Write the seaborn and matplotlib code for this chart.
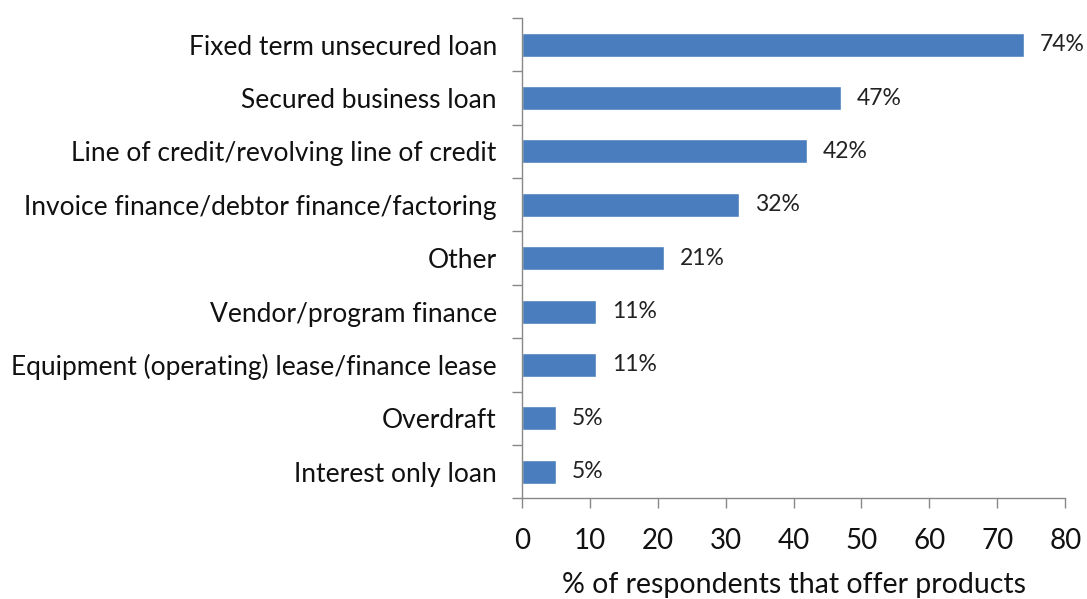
import numpy as np
import matplotlib.pyplot as plt
import pandas as pd
import seaborn as sns

products = ['Fixed term unsecured loan', 'Secured business loan',
            'Line of credit/revolving line of credit',
            'Invoice finance/debtor finance/factoring', 'Other',
            'Vendor/program finance',
            'Equipment (operating) lease/finance lease', 'Overdraft',
            'Interest only loan']
percent = [74, 47, 42, 32, 21, 11, 11, 5, 5]

df = pd.DataFrame({'product': products, 'percent': percent})

sns.set_style('white')
plt.rcParams['font.family'] = ['Lato', 'DejaVu Sans']

fig = plt.figure(figsize=(10.87, 5.99), dpi=100)
ax = fig.add_axes([0.48, 0.168, 0.5, 0.802])

sns.barplot(data=df, x='percent', y='product', orient='h', color='#4a7dbd',
            width=0.45, saturation=1, ax=ax)

# value labels next to each bar
for p, v in zip(ax.patches, df['percent']):
    ax.text(p.get_width() + 2.3, p.get_y() + p.get_height() / 2, f'{v}%',
            va='center', ha='left', fontsize=16.5, color='#222222')

ax.set_xlim(0, 80)
ax.set_xticks(np.arange(0, 81, 10))
ax.set_ylim(len(products) - 0.5, -0.5)
ax.set_yticks(np.arange(-0.5, len(products), 1), minor=True)
ax.tick_params(axis='y', which='major', length=0, labelsize=19, pad=18,
               labelcolor='#111111')
ax.tick_params(axis='y', which='minor', length=7, width=1, color='#888888', left=True)
ax.tick_params(axis='x', length=7, width=1, color='#888888', labelsize=20,
               pad=14, labelcolor='#111111', bottom=True)

ax.set_ylabel('')
ax.set_xlabel('% of respondents that offer products', fontsize=20.5,
              color='#111111', labelpad=13)

for s in ['top', 'right']:
    ax.spines[s].set_visible(False)
for s in ['left', 'bottom']:
    ax.spines[s].set_color('#888888')
    ax.spines[s].set_linewidth(1)

fig.savefig('out.png', dpi=100)
